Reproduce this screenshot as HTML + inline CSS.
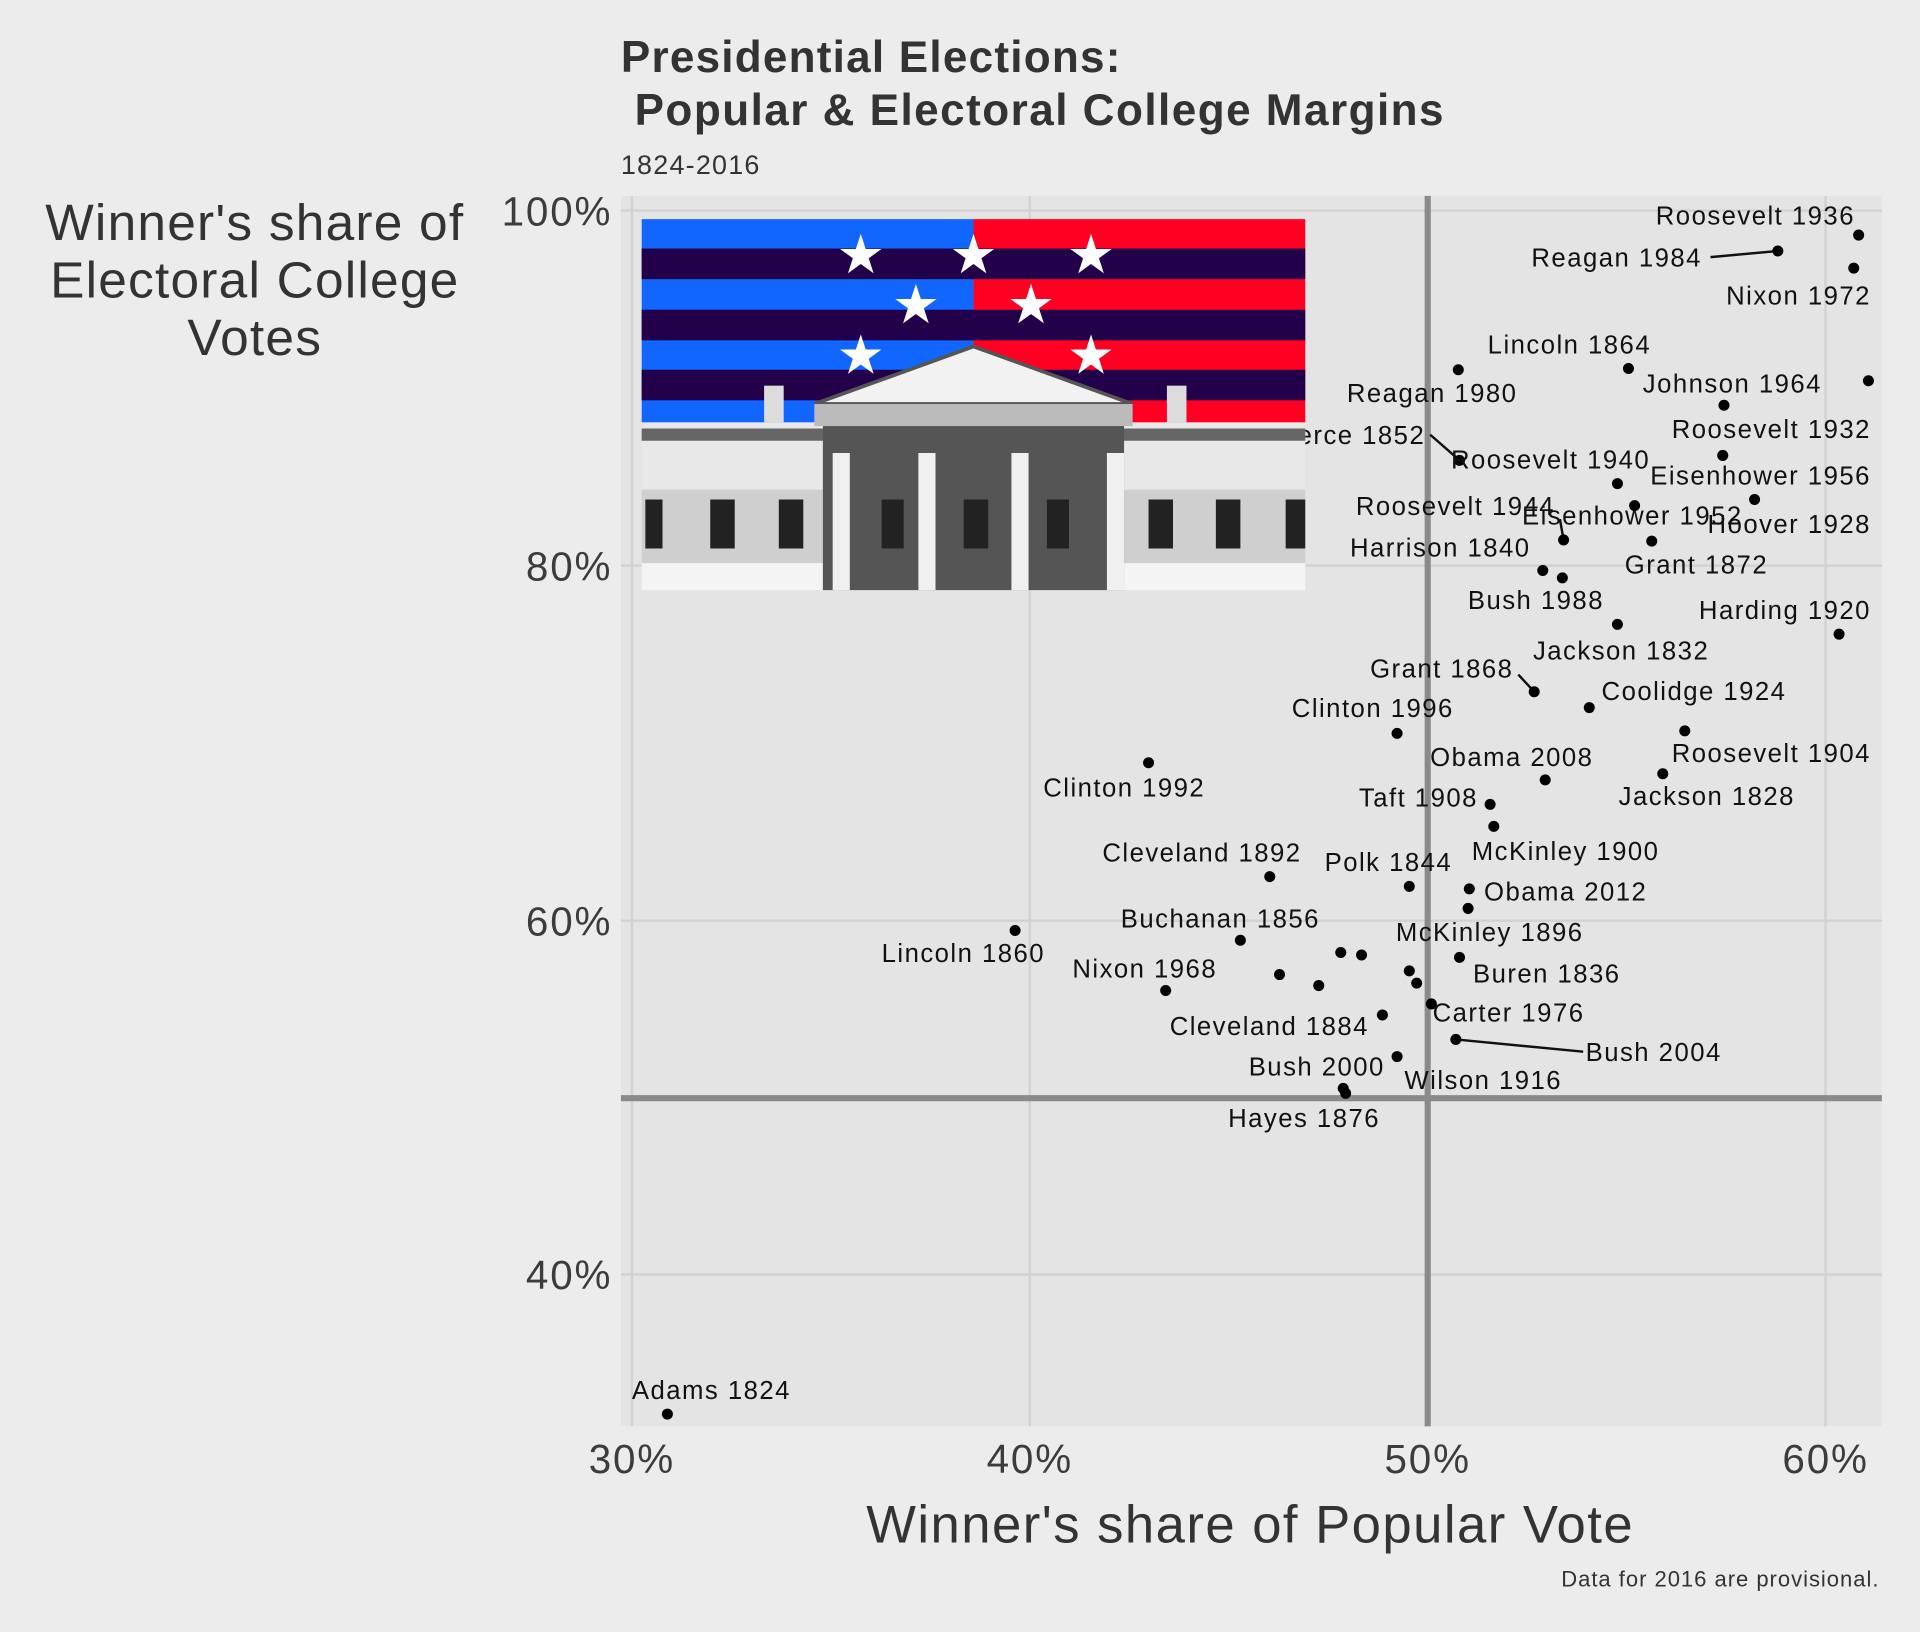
<!DOCTYPE html>
<html><head><meta charset="utf-8"><style>
html,body{margin:0;padding:0;background:#ececec;}
svg{display:block;font-family:"Liberation Sans",Arial,sans-serif;}
.l{font-size:21px;letter-spacing:1.2px;fill:#111;dominant-baseline:middle;}
.e{text-anchor:end;}
.t{font-size:33px;letter-spacing:1.5px;fill:#3c3c3c;}
</style></head><body>
<svg width="1920" height="1632" viewBox="0 0 1568 1333" xmlns="http://www.w3.org/2000/svg">
<rect width="1568" height="1333" fill="#ececec"/>
<rect x="507" y="160" width="1030" height="1005" fill="#e4e4e4"/>
<g stroke="#d2d2d2" stroke-width="2">
<line x1="516" y1="160" x2="516" y2="1165"/><line x1="841" y1="160" x2="841" y2="1165"/>
<line x1="1491" y1="160" x2="1491" y2="1165"/>
<line x1="507" y1="172" x2="1537" y2="172"/><line x1="507" y1="462" x2="1537" y2="462"/>
<line x1="507" y1="752" x2="1537" y2="752"/><line x1="507" y1="1041" x2="1537" y2="1041"/>
</g>
<line x1="1166" y1="160" x2="1166" y2="1165" stroke="#8a8a8a" stroke-width="5"/>
<line x1="507" y1="897" x2="1537" y2="897" stroke="#8a8a8a" stroke-width="5"/>
<text x="1164" y="357" class="l e">Pierce 1852</text>
<g>
<rect x="524" y="179" width="271" height="166" fill="#1166ff"/>
<rect x="795" y="179" width="271" height="166" fill="#ff0022"/>
<g fill="#22004a">
<rect x="524" y="203" width="542" height="25"/><rect x="524" y="253" width="542" height="25"/><rect x="524" y="302" width="542" height="25"/>
</g>
<g fill="#fff" font-size="44" text-anchor="middle" font-family="DejaVu Sans">
<text x="703" y="223">★</text><text x="795" y="223">★</text><text x="891" y="223">★</text>
<text x="748" y="264">★</text><text x="842" y="264">★</text>
<text x="703" y="305">★</text><text x="891" y="305">★</text>
</g>
<rect x="524" y="345" width="542" height="137" fill="#e8e8e8"/>
<rect x="524" y="350" width="542" height="10" fill="#666"/>
<rect x="524" y="400" width="542" height="60" fill="#cfcfcf"/>
<rect x="524" y="460" width="542" height="22" fill="#f4f4f4"/>
<polygon points="665,330 795,283 925,330" fill="#f2f2f2" stroke="#555" stroke-width="3"/>
<rect x="665" y="330" width="260" height="18" fill="#bbb"/>
<rect x="672" y="348" width="246" height="134" fill="#555"/>
<g fill="#f0f0f0"><rect x="680" y="370" width="14" height="112"/><rect x="750" y="370" width="14" height="112"/><rect x="826" y="370" width="14" height="112"/><rect x="904" y="370" width="14" height="112"/></g>
<g fill="#222"><rect x="527" y="408" width="14" height="40"/><rect x="580" y="408" width="20" height="40"/><rect x="636" y="408" width="20" height="40"/><rect x="720" y="408" width="18" height="40"/><rect x="787" y="408" width="20" height="40"/><rect x="855" y="408" width="18" height="40"/><rect x="938" y="408" width="20" height="40"/><rect x="993" y="408" width="20" height="40"/><rect x="1050" y="408" width="16" height="40"/></g>
<rect x="624" y="315" width="16" height="30" fill="#ddd"/><rect x="953" y="315" width="16" height="30" fill="#ddd"/>
</g>
<g stroke="#111" stroke-width="2">
<line x1="1397" y1="210" x2="1452" y2="205"/>
<line x1="1168" y1="355" x2="1192" y2="376"/>
<line x1="1274" y1="424" x2="1277" y2="441"/>
<line x1="1240" y1="551" x2="1253" y2="565"/>
<line x1="1189" y1="849" x2="1293" y2="859"/>
</g>
<g fill="#000">
<circle cx="1518" cy="192" r="4.5"/><circle cx="1452" cy="205" r="4.5"/><circle cx="1514" cy="219" r="4.5"/>
<circle cx="1330" cy="301" r="4.5"/><circle cx="1526" cy="311" r="4.5"/><circle cx="1191" cy="302" r="4.5"/>
<circle cx="1408" cy="331" r="4.5"/><circle cx="1192" cy="376" r="4.5"/><circle cx="1407" cy="372" r="4.5"/>
<circle cx="1321" cy="395" r="4.5"/><circle cx="1433" cy="408" r="4.5"/><circle cx="1335" cy="413" r="4.5"/>
<circle cx="1349" cy="442" r="4.5"/><circle cx="1277" cy="441" r="4.5"/><circle cx="1260" cy="466" r="4.5"/>
<circle cx="1276" cy="472" r="4.5"/><circle cx="1321" cy="510" r="4.5"/><circle cx="1502" cy="518" r="4.5"/>
<circle cx="1298" cy="578" r="4.5"/><circle cx="1253" cy="565" r="4.5"/><circle cx="1376" cy="597" r="4.5"/>
<circle cx="1141" cy="599" r="4.5"/><circle cx="1358" cy="632" r="4.5"/><circle cx="938" cy="623" r="4.5"/>
<circle cx="1262" cy="637" r="4.5"/><circle cx="1217" cy="657" r="4.5"/><circle cx="1220" cy="675" r="4.5"/>
<circle cx="1037" cy="716" r="4.5"/><circle cx="1151" cy="724" r="4.5"/><circle cx="1200" cy="726" r="4.5"/>
<circle cx="1199" cy="742" r="4.5"/><circle cx="1013" cy="768" r="4.5"/><circle cx="829" cy="760" r="4.5"/>
<circle cx="1192" cy="782" r="4.5"/><circle cx="1095" cy="778" r="4.5"/><circle cx="1112" cy="780" r="4.5"/>
<circle cx="1045" cy="796" r="4.5"/><circle cx="1077" cy="805" r="4.5"/><circle cx="1151" cy="793" r="4.5"/>
<circle cx="1157" cy="803" r="4.5"/><circle cx="952" cy="809" r="4.5"/><circle cx="1129" cy="829" r="4.5"/>
<circle cx="1169" cy="820" r="4.5"/><circle cx="1189" cy="849" r="4.5"/><circle cx="1141" cy="863" r="4.5"/>
<circle cx="1097" cy="889" r="4.5"/><circle cx="1099" cy="893" r="4.5"/><circle cx="545" cy="1155" r="4.5"/>
</g>
<g>
<text x="1515" y="178" class="l e">Roosevelt 1936</text>
<text x="1390" y="212" class="l e">Reagan 1984</text>
<text x="1528" y="243" class="l e">Nixon 1972</text>
<text x="1215" y="283" class="l">Lincoln 1864</text>
<text x="1488" y="315" class="l e">Johnson 1964</text>
<text x="1100" y="323" class="l">Reagan 1980</text>
<text x="1528" y="352" class="l e">Roosevelt 1932</text>
<text x="1185" y="377" class="l">Roosevelt 1940</text>
<text x="1528" y="390" class="l e">Eisenhower 1956</text>
<text x="1270" y="415" class="l e">Roosevelt 1944</text>
<text x="1243" y="423" class="l">Eisenhower 1952</text>
<text x="1528" y="430" class="l e">Hoover 1928</text>
<text x="1250" y="449" class="l e">Harrison 1840</text>
<text x="1327" y="463" class="l">Grant 1872</text>
<text x="1310" y="492" class="l e">Bush 1988</text>
<text x="1528" y="500" class="l e">Harding 1920</text>
<text x="1252" y="533" class="l">Jackson 1832</text>
<text x="1236" y="548" class="l e">Grant 1868</text>
<text x="1308" y="566" class="l">Coolidge 1924</text>
<text x="1055" y="580" class="l">Clinton 1996</text>
<text x="1528" y="617" class="l e">Roosevelt 1904</text>
<text x="1168" y="620" class="l">Obama 2008</text>
<text x="852" y="645" class="l">Clinton 1992</text>
<text x="1322" y="652" class="l">Jackson 1828</text>
<text x="1207" y="653" class="l e">Taft 1908</text>
<text x="1202" y="697" class="l">McKinley 1900</text>
<text x="1063" y="698" class="l e">Cleveland 1892</text>
<text x="1186" y="706" class="l e">Polk 1844</text>
<text x="1212" y="730" class="l">Obama 2012</text>
<text x="1078" y="752" class="l e">Buchanan 1856</text>
<text x="1140" y="763" class="l">McKinley 1896</text>
<text x="720" y="780" class="l">Lincoln 1860</text>
<text x="994" y="793" class="l e">Nixon 1968</text>
<text x="1203" y="797" class="l">Buren 1836</text>
<text x="1170" y="829" class="l">Carter 1976</text>
<text x="1118" y="840" class="l e">Cleveland 1884</text>
<text x="1295" y="861" class="l">Bush 2004</text>
<text x="1131" y="873" class="l e">Bush 2000</text>
<text x="1147" y="884" class="l">Wilson 1916</text>
<text x="1003" y="915" class="l">Hayes 1876</text>
<text x="516" y="1137" class="l">Adams 1824</text>
</g>
<g class="t" text-anchor="end">
<text x="500" y="184">100%</text><text x="500" y="474">80%</text><text x="500" y="764">60%</text><text x="500" y="1053">40%</text>
</g>
<g class="t" text-anchor="middle">
<text x="516" y="1203">30%</text><text x="841" y="1203">40%</text><text x="1166" y="1203">50%</text><text x="1491" y="1203">60%</text>
</g>
<text x="1021" y="1260" text-anchor="middle" font-size="43" letter-spacing="1.2" fill="#333">Winner's share of Popular Vote</text>
<g font-size="42" letter-spacing="1" fill="#333" text-anchor="middle">
<text x="208" y="196">Winner's share of</text><text x="208" y="243">Electoral College</text><text x="208" y="290">Votes</text>
</g>
<text x="507" y="59" font-size="36" letter-spacing="1" font-weight="bold" fill="#333">Presidential Elections:</text>
<text x="507" y="102" font-size="36" letter-spacing="1.2" font-weight="bold" fill="#333" xml:space="preserve"> Popular &amp; Electoral College Margins</text>
<text x="507" y="142" font-size="22" letter-spacing="1" fill="#333">1824-2016</text>
<text x="1535" y="1296" text-anchor="end" font-size="18" letter-spacing="0.8" fill="#333">Data for 2016 are provisional.</text>
</svg>
</body></html>
